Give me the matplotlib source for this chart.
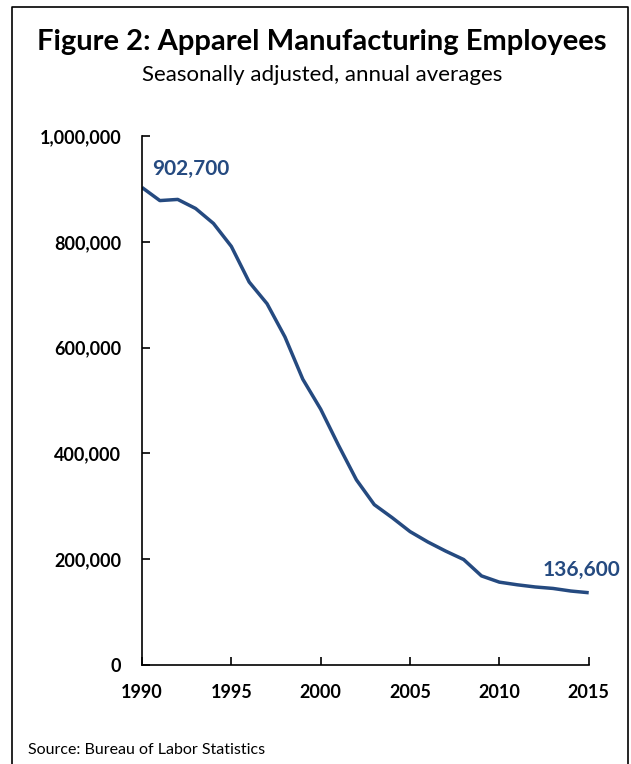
import matplotlib.pyplot as plt
from matplotlib.lines import Line2D
from matplotlib.ticker import FuncFormatter

years = list(range(1990, 2016))
employees = [902700, 877900, 880100, 863000, 834700, 791300, 723900, 682900,
             620200, 540200, 483600, 415200, 350000, 303100, 278500, 252200,
             232500, 215200, 199400, 168400, 156600, 151600, 147500, 144700,
             139800, 136600]

x_ticks = [1990, 1995, 2000, 2005, 2010, 2015]
y_ticks = [0, 200000, 400000, 600000, 800000, 1000000]

line_color = '#254a80'
plt.rcParams['font.family'] = ['Lato', 'DejaVu Sans']

fig = plt.figure(figsize=(6.31, 7.64), dpi=100)
ax = fig.add_axes([0.225, 0.1296, 0.708, 0.6924])

ax.plot(years, employees, color=line_color, linewidth=2.5, solid_capstyle='butt')
ax.set_xlim(1990, 2015)
ax.set_ylim(0, 1000000)
ax.set_xticks(x_ticks)
ax.set_yticks(y_ticks)
ax.yaxis.set_major_formatter(FuncFormatter(lambda v, p: f"{int(v):,}"))

for side in ['top', 'right']:
    ax.spines[side].set_visible(False)
for side in ['left', 'bottom']:
    ax.spines[side].set_linewidth(1.2)
ax.tick_params(axis='x', direction='in', length=6, width=1.2, pad=14, labelsize=13)
ax.tick_params(axis='y', direction='in', length=6, width=1.2, pad=15, labelsize=13)
for lbl in ax.get_xticklabels() + ax.get_yticklabels():
    lbl.set_fontweight('bold')

ax.annotate(f"{employees[0]:,}", (years[0], employees[0]), xytext=(7, 6),
            textcoords='offset points', color=line_color, fontsize=15,
            fontweight='bold', ha='left', va='bottom')
ax.annotate(f"{employees[-1]:,}", (years[-1], employees[-1]), xytext=(23, 9),
            textcoords='offset points', color=line_color, fontsize=15,
            fontweight='bold', ha='right', va='bottom', annotation_clip=False)

fig.text(0.51, 0.945, "Figure 2: Apparel Manufacturing Employees",
         ha='center', va='center', fontsize=21, fontweight='bold')
fig.text(0.51, 0.902, "Seasonally adjusted, annual averages",
         ha='center', va='center', fontsize=16)
fig.text(0.044, 0.018, "Source: Bureau of Labor Statistics",
         ha='left', va='center', fontsize=11.5)

# frame around the chart, open at the bottom
fig.add_artist(Line2D([0.019, 0.019, 0.995, 0.995], [0.0, 0.991, 0.991, 0.0],
                      transform=fig.transFigure, color='black', linewidth=1.2))

plt.savefig("out.png", dpi=100)
